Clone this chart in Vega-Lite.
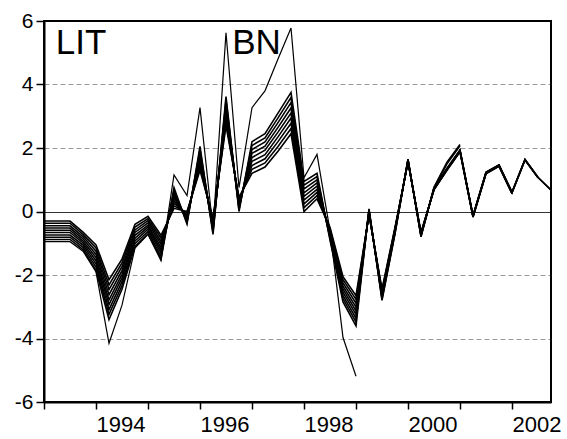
{
  "$schema": "https://vega.github.io/schema/vega-lite/v6.json",
  "width": 507,
  "height": 381,
  "autosize": "none",
  "padding": {"left": 44, "top": 21, "right": 16, "bottom": 37},
  "background": "white",
  "config": {
    "font": "Liberation Sans",
    "view": {"stroke": "#000", "strokeWidth": 2, "strokeOpacity": 1}
  },
  "datasets": {
    "cycles": [
      {"date": 1993.00, "b0": -0.30, "b1": -0.37, "b2": -0.45, "b3": -0.52, "b4": -0.59, "b5": -0.66, "b6": -0.74, "b7": -0.81, "b8": -0.88, "o": -0.95},
      {"date": 1993.25, "b0": -0.30, "b1": -0.37, "b2": -0.45, "b3": -0.52, "b4": -0.59, "b5": -0.66, "b6": -0.74, "b7": -0.81, "b8": -0.88, "o": -0.95},
      {"date": 1993.50, "b0": -0.30, "b1": -0.37, "b2": -0.45, "b3": -0.52, "b4": -0.59, "b5": -0.66, "b6": -0.74, "b7": -0.81, "b8": -0.88, "o": -0.95},
      {"date": 1993.75, "b0": -0.65, "b1": -0.72, "b2": -0.79, "b3": -0.86, "b4": -0.93, "b5": -0.99, "b6": -1.06, "b7": -1.13, "b8": -1.20, "o": -1.25},
      {"date": 1994.00, "b0": -1.05, "b1": -1.15, "b2": -1.25, "b3": -1.35, "b4": -1.45, "b5": -1.55, "b6": -1.65, "b7": -1.75, "b8": -1.85, "o": -1.90},
      {"date": 1994.25, "b0": -2.15, "b1": -2.31, "b2": -2.46, "b3": -2.62, "b4": -2.78, "b5": -2.93, "b6": -3.09, "b7": -3.24, "b8": -3.40, "o": -4.15},
      {"date": 1994.50, "b0": -1.50, "b1": -1.62, "b2": -1.74, "b3": -1.86, "b4": -1.98, "b5": -2.09, "b6": -2.21, "b7": -2.33, "b8": -2.45, "o": -2.95},
      {"date": 1994.75, "b0": -0.40, "b1": -0.49, "b2": -0.58, "b3": -0.66, "b4": -0.75, "b5": -0.84, "b6": -0.93, "b7": -1.01, "b8": -1.10, "o": -1.15},
      {"date": 1995.00, "b0": -0.15, "b1": -0.22, "b2": -0.29, "b3": -0.36, "b4": -0.43, "b5": -0.49, "b6": -0.56, "b7": -0.63, "b8": -0.70, "o": -0.72},
      {"date": 1995.25, "b0": -0.75, "b1": -0.84, "b2": -0.94, "b3": -1.03, "b4": -1.13, "b5": -1.22, "b6": -1.31, "b7": -1.41, "b8": -1.50, "o": -1.55},
      {"date": 1995.50, "b0": 0.10, "b1": 0.18, "b2": 0.26, "b3": 0.34, "b4": 0.43, "b5": 0.51, "b6": 0.59, "b7": 0.67, "b8": 0.75, "o": 1.15},
      {"date": 1995.75, "b0": 0.00, "b1": -0.05, "b2": -0.10, "b3": -0.15, "b4": -0.20, "b5": -0.25, "b6": -0.30, "b7": -0.35, "b8": -0.40, "o": 0.50},
      {"date": 1996.00, "b0": 1.30, "b1": 1.39, "b2": 1.49, "b3": 1.58, "b4": 1.68, "b5": 1.77, "b6": 1.86, "b7": 1.96, "b8": 2.05, "o": 3.27},
      {"date": 1996.25, "b0": -0.20, "b1": -0.27, "b2": -0.33, "b3": -0.40, "b4": -0.46, "b5": -0.53, "b6": -0.59, "b7": -0.66, "b8": -0.72, "o": -0.55},
      {"date": 1996.50, "b0": 2.70, "b1": 2.82, "b2": 2.93, "b3": 3.05, "b4": 3.16, "b5": 3.28, "b6": 3.39, "b7": 3.51, "b8": 3.62, "o": 5.63},
      {"date": 1996.75, "b0": 0.45, "b1": 0.39, "b2": 0.34, "b3": 0.28, "b4": 0.23, "b5": 0.17, "b6": 0.11, "b7": 0.06, "b8": 0.00, "o": 0.75},
      {"date": 1997.00, "b0": 1.20, "b1": 1.33, "b2": 1.45, "b3": 1.58, "b4": 1.70, "b5": 1.83, "b6": 1.95, "b7": 2.08, "b8": 2.20, "o": 3.27},
      {"date": 1997.25, "b0": 1.40, "b1": 1.53, "b2": 1.66, "b3": 1.79, "b4": 1.93, "b5": 2.06, "b6": 2.19, "b7": 2.32, "b8": 2.45, "o": 3.80},
      {"date": 1997.50, "b0": 1.90, "b1": 2.05, "b2": 2.20, "b3": 2.35, "b4": 2.50, "b5": 2.65, "b6": 2.80, "b7": 2.95, "b8": 3.10, "o": 4.80},
      {"date": 1997.75, "b0": 2.45, "b1": 2.61, "b2": 2.78, "b3": 2.94, "b4": 3.10, "b5": 3.26, "b6": 3.43, "b7": 3.59, "b8": 3.75, "o": 5.78},
      {"date": 1998.00, "b0": 0.00, "b1": 0.12, "b2": 0.24, "b3": 0.36, "b4": 0.48, "b5": 0.59, "b6": 0.71, "b7": 0.83, "b8": 0.95, "o": 1.06},
      {"date": 1998.25, "b0": 0.40, "b1": 0.50, "b2": 0.60, "b3": 0.70, "b4": 0.80, "b5": 0.90, "b6": 1.00, "b7": 1.10, "b8": 1.20, "o": 1.80},
      {"date": 1998.50, "b0": -0.50, "b1": -0.55, "b2": -0.60, "b3": -0.65, "b4": -0.70, "b5": -0.75, "b6": -0.80, "b7": -0.85, "b8": -0.90, "o": -0.60},
      {"date": 1998.75, "b0": -2.05, "b1": -2.15, "b2": -2.25, "b3": -2.35, "b4": -2.45, "b5": -2.55, "b6": -2.65, "b7": -2.75, "b8": -2.85, "o": -3.97},
      {"date": 1999.00, "b0": -2.65, "b1": -2.77, "b2": -2.89, "b3": -3.01, "b4": -3.13, "b5": -3.24, "b6": -3.36, "b7": -3.48, "b8": -3.60, "o": -5.19},
      {"date": 1999.25, "b0": -0.10, "b1": -0.08, "b2": -0.06, "b3": -0.03, "b4": -0.01, "b5": 0.01, "b6": 0.04, "b7": 0.06, "b8": 0.08},
      {"date": 1999.50, "b0": -2.45, "b1": -2.49, "b2": -2.54, "b3": -2.58, "b4": -2.63, "b5": -2.67, "b6": -2.71, "b7": -2.76, "b8": -2.80},
      {"date": 1999.75, "b0": -0.50, "b1": -0.53, "b2": -0.55, "b3": -0.58, "b4": -0.60, "b5": -0.63, "b6": -0.65, "b7": -0.68, "b8": -0.70},
      {"date": 2000.00, "b0": 1.55, "b1": 1.56, "b2": 1.58, "b3": 1.59, "b4": 1.60, "b5": 1.61, "b6": 1.63, "b7": 1.64, "b8": 1.65},
      {"date": 2000.25, "b0": -0.65, "b1": -0.67, "b2": -0.69, "b3": -0.71, "b4": -0.73, "b5": -0.74, "b6": -0.76, "b7": -0.78, "b8": -0.80},
      {"date": 2000.50, "b0": 0.68, "b1": 0.69, "b2": 0.70, "b3": 0.71, "b4": 0.72, "b5": 0.73, "b6": 0.74, "b7": 0.75, "b8": 0.76},
      {"date": 2000.75, "b0": 1.30, "b1": 1.31, "b2": 1.32, "b3": 1.33, "b4": 1.34, "b5": 1.35, "b6": 1.36, "b7": 1.50, "b8": 1.55},
      {"date": 2001.00, "b0": 1.88, "b1": 1.89, "b2": 1.90, "b3": 1.91, "b4": 1.92, "b5": 1.93, "b6": 1.94, "b7": 2.07, "b8": 2.11},
      {"date": 2001.25, "b0": -0.18, "b1": -0.17, "b2": -0.16, "b3": -0.15, "b4": -0.14, "b5": -0.14, "b6": -0.13},
      {"date": 2001.50, "b0": 1.19, "b1": 1.20, "b2": 1.21, "b3": 1.22, "b4": 1.23, "b5": 1.23, "b6": 1.24},
      {"date": 2001.75, "b0": 1.42, "b1": 1.43, "b2": 1.44, "b3": 1.45, "b4": 1.46, "b5": 1.46, "b6": 1.47},
      {"date": 2002.00, "b0": 0.56, "b1": 0.57, "b2": 0.58, "b3": 0.59, "b4": 0.60, "b5": 0.60, "b6": 0.61},
      {"date": 2002.25, "b3": 1.62, "b4": 1.63, "b5": 1.63, "b6": 1.64},
      {"date": 2002.50, "b3": 1.06, "b4": 1.07, "b5": 1.07, "b6": 1.08},
      {"date": 2002.75, "b5": 0.67, "b6": 0.68}
    ],
    "notes": [
      {"label": "LIT", "date": 1993.225, "value": 4.95},
      {"label": "BN", "date": 1996.62, "value": 4.95}
    ],
    "box": [
      {"x0": 1993, "x1": 2002.75, "y0": -6, "y1": 6}
    ]
  },
  "layer": [
    {
      "data": {"name": "cycles"},
      "transform": [
        {"fold": ["b0", "b1", "b2", "b3", "b4", "b5", "b6", "b7", "b8", "o"], "as": ["series", "value"]},
        {"filter": "isValid(datum.value)"}
      ],
      "mark": {"type": "line", "color": "#000", "interpolate": "linear"},
      "encoding": {
        "x": {
          "field": "date",
          "type": "quantitative",
          "scale": {"domain": [1993, 2002.75], "nice": false, "zero": false},
          "axis": {
            "title": null,
            "domain": true,
            "domainColor": "#000",
            "domainWidth": 2,
            "grid": false,
            "values": [1993, 1993.25, 1993.5, 1993.75, 1994, 1994.25, 1994.5, 1994.75, 1995, 1995.25, 1995.5, 1995.75, 1996, 1996.25, 1996.5, 1996.75, 1997, 1997.25, 1997.5, 1997.75, 1998, 1998.25, 1998.5, 1998.75, 1999, 1999.25, 1999.5, 1999.75, 2000, 2000.25, 2000.5, 2000.75, 2001, 2001.25, 2001.5, 2001.75, 2002, 2002.25, 2002.5, 2002.75],
            "tickSize": {"condition": {"test": "datum.value % 1 == 0", "value": 7}, "value": 4},
            "tickWidth": 1.5,
            "tickColor": "#000",
            "labelExpr": "datum.value % 2 == 0 ? '' + datum.value : ''",
            "labelAlign": "left",
            "labelBaseline": "top",
            "labelFontSize": 22,
            "labelColor": "#000",
            "labelPadding": 5,
            "labelOverlap": false,
            "labelFlush": false,
            "labelBound": false
          }
        },
        "y": {
          "field": "value",
          "type": "quantitative",
          "scale": {"domain": [-6, 6], "nice": false, "zero": false},
          "axis": {
            "title": null,
            "domain": true,
            "domainColor": "#000",
            "domainWidth": 2,
            "values": [-6, -4, -2, 0, 2, 4, 6],
            "grid": true,
            "gridColor": {"condition": {"test": "datum.value == 0", "value": "#333"}, "value": "#999"},
            "gridDash": {"condition": {"test": "datum.value == 0", "value": []}, "value": [5, 3]},
            "gridOpacity": {"condition": {"test": "abs(datum.value) == 6", "value": 0}, "value": 1},
            "gridWidth": 1,
            "tickSize": 8,
            "tickWidth": 1.5,
            "tickColor": "#000",
            "labelExpr": "'' + datum.value",
            "labelFontSize": 21,
            "labelColor": "#000",
            "labelPadding": 3
          }
        },
        "detail": {"field": "series", "type": "nominal"},
        "strokeWidth": {"condition": {"test": "datum.series == 'o'", "value": 1.2}, "value": 1.6}
      }
    },
    {
      "data": {"name": "box"},
      "mark": {"type": "rect", "filled": false, "stroke": "#000", "strokeWidth": 2, "strokeOpacity": 1},
      "encoding": {
        "x": {"field": "x0", "type": "quantitative"},
        "x2": {"field": "x1"},
        "y": {"field": "y0", "type": "quantitative"},
        "y2": {"field": "y1"}
      }
    },
    {
      "data": {"name": "notes"},
      "mark": {"type": "text", "align": "left", "baseline": "alphabetic", "fontSize": 35, "color": "#000"},
      "encoding": {
        "x": {"field": "date", "type": "quantitative"},
        "y": {"field": "value", "type": "quantitative"},
        "text": {"field": "label"}
      }
    }
  ]
}
